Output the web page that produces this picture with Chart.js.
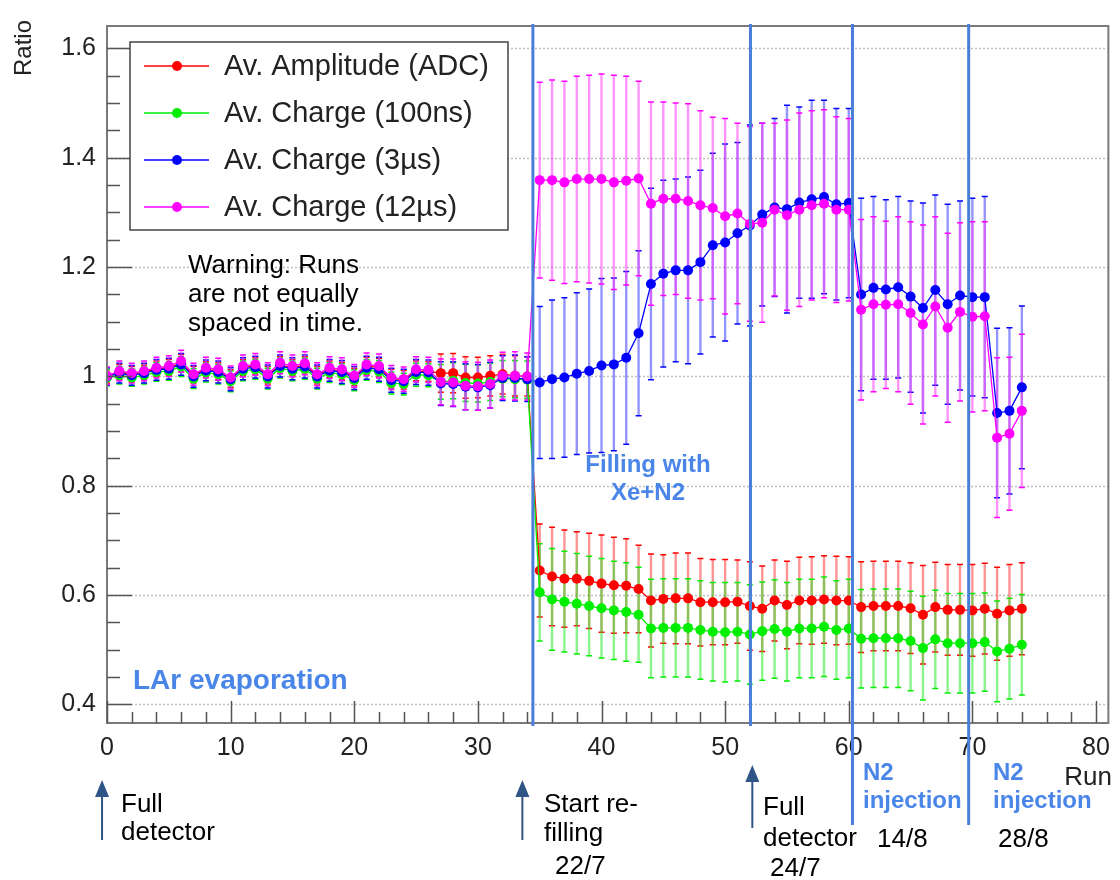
<!DOCTYPE html>
<html>
<head>
    <title>Ratio vs Run</title>
    <script src="https://cdn.jsdelivr.net/npm/chart.js"></script>
    <style>
        body {
            margin: 0;
            padding: 0;
            background-color: #ffffff;
        }
        #wrap {
            width: 1120px;
            height: 880px;
        }
    </style>
</head>
<body>
<div id="wrap"><canvas id="ratioChart" width="1120" height="880"></canvas></div>
<script>
// run numbers
var runs = [0,1,2,3,4,5,6,7,8,9,10,11,12,13,14,15,16,17,18,19,20,21,22,23,24,25,26,27,28,29,
    30,31,32,33,34,35,36,37,38,39,40,41,42,43,44,45,46,47,48,49,50,51,52,53,54,55,56,57,58,59,
    60,61,62,63,64,65,66,67,68,69,70,71,72,73,74];

// Av. Amplitude (ADC)
var ampADC = [1.000,1.008,1.004,1.008,1.014,1.016,1.024,1.003,1.013,1.010,0.996,1.016,1.019,1.002,1.021,1.016,1.020,1.002,1.013,1.010,
    0.999,1.019,1.016,0.996,0.994,1.010,1.009,1.006,1.006,0.998,0.998,1.001,1.004,1.001,1.000,
    0.645,0.634,0.630,0.630,0.626,0.621,0.618,0.617,0.611,
    0.590,0.593,0.594,0.594,0.587,0.587,0.587,0.588,0.580,0.575,0.590,0.582,0.590,0.590,0.592,0.590,0.590,
    0.578,0.580,0.580,0.580,0.576,0.564,0.578,0.573,0.573,0.572,0.575,0.566,0.572,0.575];
var ampADCErr = [0.012,0.014,0.014,0.013,0.014,0.015,0.016,0.015,0.014,0.015,0.016,0.015,0.015,0.016,0.015,0.015,0.016,0.016,0.015,0.016,
    0.016,0.016,0.017,0.017,0.017,0.018,0.018,0.035,0.036,0.038,0.037,0.037,0.036,0.037,0.036,
    0.085,0.090,0.089,0.086,0.087,0.089,0.088,0.086,0.080,
    0.085,0.081,0.083,0.083,0.080,0.078,0.078,0.076,0.081,0.078,0.074,0.080,0.079,0.080,0.080,0.081,0.080,
    0.083,0.082,0.082,0.082,0.083,0.090,0.082,0.083,0.083,0.084,0.083,0.085,0.084,0.084];

// Av. Charge (100ns)
var q100ns = [0.998,1.002,0.998,1.002,1.008,1.010,1.018,0.996,1.007,1.004,0.991,1.010,1.013,0.996,1.015,1.010,1.014,0.996,1.007,1.004,
    0.993,1.012,1.009,0.988,0.986,1.003,1.002,0.990,0.992,0.988,0.987,0.990,0.996,0.995,0.994,
    0.605,0.592,0.588,0.584,0.580,0.576,0.572,0.569,0.564,
    0.539,0.540,0.540,0.540,0.536,0.533,0.532,0.533,0.528,0.534,0.538,0.533,0.539,0.539,0.542,0.536,0.539,
    0.520,0.521,0.521,0.521,0.516,0.503,0.519,0.512,0.512,0.512,0.514,0.497,0.502,0.509];
var q100nsErr = [0.015,0.016,0.016,0.016,0.017,0.017,0.018,0.018,0.017,0.018,0.019,0.018,0.018,0.019,0.018,0.018,0.019,0.019,0.018,0.019,
    0.019,0.019,0.020,0.020,0.020,0.021,0.021,0.032,0.033,0.034,0.034,0.034,0.033,0.034,0.034,
    0.089,0.093,0.092,0.092,0.091,0.091,0.090,0.090,0.087,
    0.090,0.090,0.090,0.090,0.090,0.090,0.091,0.090,0.091,0.090,0.090,0.090,0.090,0.090,0.091,0.090,0.090,
    0.090,0.090,0.090,0.090,0.091,0.095,0.090,0.091,0.091,0.091,0.090,0.092,0.092,0.092];

// Av. Charge (3us)
var q3us = [1.000,1.006,1.002,1.006,1.012,1.014,1.022,1.000,1.011,1.008,0.995,1.014,1.017,1.000,1.019,1.014,1.018,1.000,1.011,1.008,
    0.997,1.016,1.013,0.993,0.991,1.008,1.007,0.987,0.986,0.981,0.980,0.984,0.997,0.997,0.995,
    0.989,0.995,0.998,1.005,1.010,1.020,1.022,1.034,1.079,
    1.169,1.188,1.194,1.194,1.209,1.240,1.245,1.262,1.276,1.296,1.309,1.306,1.318,1.324,1.328,1.315,1.317,
    1.150,1.162,1.159,1.163,1.146,1.125,1.158,1.132,1.148,1.145,1.145,0.933,0.937,0.980];
var q3usErr = [0.016,0.018,0.018,0.018,0.019,0.019,0.020,0.020,0.019,0.020,0.021,0.020,0.020,0.021,0.020,0.020,0.021,0.021,0.020,0.021,
    0.021,0.021,0.022,0.022,0.022,0.023,0.023,0.040,0.041,0.042,0.042,0.042,0.041,0.042,0.041,
    0.139,0.145,0.146,0.148,0.150,0.159,0.158,0.158,0.151,
    0.175,0.171,0.167,0.171,0.168,0.168,0.180,0.166,0.184,0.167,0.163,0.190,0.175,0.181,0.177,0.175,0.173,
    0.176,0.167,0.164,0.166,0.175,0.192,0.174,0.183,0.173,0.181,0.184,0.155,0.152,0.149];

// Av. Charge (12us)
var q12us = [1.001,1.010,1.006,1.010,1.016,1.019,1.028,1.004,1.016,1.013,0.998,1.019,1.022,1.004,1.025,1.019,1.024,1.004,1.016,1.013,
    1.001,1.022,1.019,0.998,0.995,1.013,1.012,0.990,0.989,0.983,0.982,0.986,1.001,1.001,1.000,
    1.359,1.359,1.355,1.361,1.361,1.361,1.355,1.358,1.362,
    1.316,1.325,1.325,1.321,1.313,1.308,1.293,1.298,1.279,1.281,1.305,1.295,1.305,1.313,1.316,1.305,1.305,
    1.122,1.132,1.131,1.132,1.116,1.095,1.128,1.089,1.118,1.109,1.110,0.888,0.895,0.937];
var q12usErr = [0.016,0.018,0.018,0.018,0.019,0.019,0.020,0.020,0.019,0.020,0.021,0.020,0.020,0.021,0.020,0.020,0.021,0.021,0.020,0.021,
    0.021,0.021,0.022,0.022,0.022,0.023,0.023,0.042,0.043,0.044,0.044,0.044,0.043,0.044,0.043,
    0.179,0.183,0.185,0.188,0.190,0.192,0.196,0.191,0.178,
    0.186,0.177,0.175,0.178,0.173,0.166,0.179,0.165,0.178,0.182,0.158,0.174,0.177,0.173,0.172,0.170,0.167,
    0.165,0.160,0.153,0.160,0.167,0.182,0.164,0.173,0.163,0.174,0.173,0.146,0.140,0.140];

var seriesNames = ['Av. Amplitude (ADC)', 'Av. Charge (100ns)', 'Av. Charge (3\u00b5s)', 'Av. Charge (12\u00b5s)'];
var seriesColors = ['#ff0000', '#00ee00', '#0000ff', '#ff00ff'];
var barColors = ['rgba(255,60,60,0.55)', 'rgba(40,235,40,0.55)', 'rgba(60,60,255,0.55)', 'rgba(255,60,255,0.55)'];
var seriesValues = [ampADC, q100ns, q3us, q12us];
var seriesErrors = [ampADCErr, q100nsErr, q3usErr, q12usErr];

var xTicks = [0, 10, 20, 30, 40, 50, 60, 70, 80];
var yTicks = [0.4, 0.6, 0.8, 1.0, 1.2, 1.4, 1.6];

// periods: refill start, full detector, two N2 injections
var markerRuns = [34.45, 52.05, 60.3, 69.7];
var arrowRuns = [-0.4, 33.6, 52.2];

var FONT = '"Liberation Sans", Arial, sans-serif';
var LINE_BLUE = '#4a7fd9';
var NOTE_BLUE = '#4a86e8';

var notes = [
    { t: 'Warning: Runs', x: 188, y: 273, c: '#000', f: '26px' },
    { t: 'are not equally', x: 188, y: 302, c: '#000', f: '26px' },
    { t: 'spaced in time.', x: 188, y: 331, c: '#000', f: '26px' },
    { t: 'Filling with', x: 648, y: 472, c: NOTE_BLUE, f: 'bold 24px', a: 'center' },
    { t: 'Xe+N2', x: 648, y: 500, c: NOTE_BLUE, f: 'bold 24px', a: 'center' },
    { t: 'LAr evaporation', x: 133, y: 689, c: NOTE_BLUE, f: 'bold 28px' },
    { t: 'Full', x: 121, y: 812, c: '#000', f: '26px' },
    { t: 'detector', x: 121, y: 840, c: '#000', f: '26px' },
    { t: 'Start re-', x: 544, y: 812, c: '#000', f: '26px' },
    { t: 'filling', x: 544, y: 841, c: '#000', f: '26px' },
    { t: '22/7', x: 555, y: 874, c: '#000', f: '26px' },
    { t: 'Full', x: 763, y: 815, c: '#000', f: '26px' },
    { t: 'detector', x: 763, y: 846, c: '#000', f: '26px' },
    { t: '24/7', x: 770, y: 876, c: '#000', f: '26px' },
    { t: 'N2', x: 863, y: 780, c: NOTE_BLUE, f: 'bold 24px' },
    { t: 'injection', x: 863, y: 808, c: NOTE_BLUE, f: 'bold 24px' },
    { t: '14/8', x: 877, y: 847, c: '#000', f: '26px' },
    { t: 'N2', x: 993, y: 780, c: NOTE_BLUE, f: 'bold 24px' },
    { t: 'injection', x: 993, y: 808, c: NOTE_BLUE, f: 'bold 24px' },
    { t: '28/8', x: 998, y: 847, c: '#000', f: '26px' }
];

function toPoints(vals) {
    var pts = [];
    for (var i = 0; i < runs.length; i++) {
        pts.push({ x: runs[i], y: vals[i] });
    }
    return pts;
}

// draw order: pink on top, red at the bottom
var drawOrder = [3, 2, 1, 0];
var datasets = [];
for (var s = 0; s < 4; s++) {
    datasets.push({
        label: seriesNames[s],
        data: toPoints(seriesValues[s]),
        borderColor: seriesColors[s],
        backgroundColor: seriesColors[s],
        borderWidth: 1.3,
        pointRadius: 5,
        pointBorderWidth: 0,
        pointBackgroundColor: seriesColors[s],
        tension: 0,
        order: drawOrder[s],
        errors: seriesErrors[s],
        barColor: barColors[s]
    });
}

var rootStyle = {
    id: 'rootStyle',
    beforeDatasetsDraw: function (chart) {
        var ctx = chart.ctx, area = chart.chartArea;
        var xs = chart.scales.x, ys = chart.scales.y;
        ctx.save();
        // dotted horizontal grid
        ctx.strokeStyle = '#c0c0c0';
        ctx.lineWidth = 1.5;
        ctx.setLineDash([2, 2]);
        yTicks.forEach(function (v) {
            var y = Math.round(ys.getPixelForValue(v)) + 0.5;
            ctx.beginPath();
            ctx.moveTo(area.left, y);
            ctx.lineTo(area.right, y);
            ctx.stroke();
        });
        ctx.setLineDash([]);
        // error bars
        ctx.beginPath();
        ctx.rect(area.left, area.top, area.right - area.left, area.bottom - area.top);
        ctx.clip();
        for (var s = 0; s < 4; s++) {
            var ds = chart.data.datasets[s];
            for (var i = 0; i < runs.length; i++) {
                var x = xs.getPixelForValue(runs[i]);
                var v = seriesValues[s][i], e = ds.errors[i];
                var yHi = ys.getPixelForValue(v + e), yLo = ys.getPixelForValue(v - e);
                ctx.strokeStyle = ds.barColor;
                ctx.lineWidth = 2.4;
                ctx.beginPath();
                ctx.moveTo(x, yHi);
                ctx.lineTo(x, yLo);
                ctx.stroke();
                ctx.strokeStyle = seriesColors[s];
                ctx.lineWidth = 1.5;
                ctx.beginPath();
                ctx.moveTo(x - 3, yHi);
                ctx.lineTo(x + 3, yHi);
                ctx.moveTo(x - 3, yLo);
                ctx.lineTo(x + 3, yLo);
                ctx.stroke();
            }
        }
        ctx.restore();
    },
    afterDatasetsDraw: function (chart) {
        var ctx = chart.ctx, area = chart.chartArea;
        var xs = chart.scales.x, ys = chart.scales.y;
        ctx.save();

        // frame
        ctx.strokeStyle = '#7a7a7a';
        ctx.lineWidth = 2;
        ctx.strokeRect(area.left, area.top, area.right - area.left, area.bottom - area.top);

        // inside ticks
        ctx.strokeStyle = '#555';
        ctx.lineWidth = 1.5;
        ctx.beginPath();
        for (var t = 0; t <= 80; t += 2) {
            var x = Math.round(xs.getPixelForValue(t)) + 0.5;
            var len = (t % 10 === 0) ? 22 : 11;
            ctx.moveTo(x, area.bottom);
            ctx.lineTo(x, area.bottom - len);
        }
        for (var k = 8; k <= 32; k++) {
            var y = Math.round(ys.getPixelForValue(k * 0.05)) + 0.5;
            var ylen = (k % 4 === 0) ? 25 : 13;
            ctx.moveTo(area.left, y);
            ctx.lineTo(area.left + ylen, y);
        }
        ctx.stroke();

        // period markers
        ctx.strokeStyle = LINE_BLUE;
        ctx.lineWidth = 3;
        markerRuns.forEach(function (r, i) {
            var x = xs.getPixelForValue(r);
            ctx.beginPath();
            ctx.moveTo(x, area.top - 2);
            ctx.lineTo(x, i < 2 ? area.bottom + 3 : 825);
            ctx.stroke();
        });

        // arrows below the axis
        ctx.strokeStyle = '#2f5486';
        ctx.fillStyle = '#2f5486';
        ctx.lineWidth = 2;
        arrowRuns.forEach(function (r, i) {
            var x = xs.getPixelForValue(r);
            var top = i === 2 ? 765 : 780, bottom = i === 2 ? 828 : 840;
            ctx.beginPath();
            ctx.moveTo(x, top + 10);
            ctx.lineTo(x, bottom);
            ctx.stroke();
            ctx.beginPath();
            ctx.moveTo(x, top);
            ctx.lineTo(x - 7, top + 17);
            ctx.lineTo(x + 7, top + 17);
            ctx.closePath();
            ctx.fill();
        });

        // legend box
        ctx.fillStyle = '#fff';
        ctx.fillRect(130, 42, 378, 188);
        ctx.strokeStyle = '#444';
        ctx.lineWidth = 1.5;
        ctx.strokeRect(130, 42, 378, 188);
        for (var s = 0; s < 4; s++) {
            var ly = 66 + s * 47;
            ctx.strokeStyle = seriesColors[s];
            ctx.lineWidth = 1.3;
            ctx.beginPath();
            ctx.moveTo(144, ly);
            ctx.lineTo(209, ly);
            ctx.stroke();
            ctx.fillStyle = seriesColors[s];
            ctx.beginPath();
            ctx.arc(177, ly, 5, 0, Math.PI * 2);
            ctx.fill();
            ctx.fillStyle = '#222';
            ctx.font = '29px ' + FONT;
            ctx.textAlign = 'left';
            ctx.textBaseline = 'middle';
            ctx.fillText(seriesNames[s], 224, ly + 1);
        }

        // axis titles
        ctx.fillStyle = '#222';
        ctx.font = '24px ' + FONT;
        ctx.textBaseline = 'middle';
        ctx.save();
        ctx.translate(24, 20);
        ctx.rotate(-Math.PI / 2);
        ctx.textAlign = 'right';
        ctx.fillText('Ratio', 0, 0);
        ctx.restore();
        ctx.font = '26px ' + FONT;
        ctx.textAlign = 'right';
        ctx.textBaseline = 'alphabetic';
        ctx.fillText('Run', 1112, 785);

        // annotations
        notes.forEach(function (n) {
            ctx.fillStyle = n.c;
            ctx.font = n.f + ' ' + FONT;
            ctx.textAlign = n.a || 'left';
            ctx.textBaseline = 'alphabetic';
            ctx.fillText(n.t, n.x, n.y);
        });
        ctx.restore();
    }
};

var ctx = document.getElementById('ratioChart').getContext('2d');
var ratioChart = new Chart(ctx, {
    type: 'line',
    data: { datasets: datasets },
    options: {
        responsive: false,
        animation: false,
        devicePixelRatio: 1,
        layout: { padding: { top: 10, right: 7, left: 0, bottom: 0 } },
        plugins: {
            legend: { display: false },
            tooltip: { enabled: false }
        },
        scales: {
            x: {
                type: 'linear',
                min: 0,
                max: 81,
                grid: { display: false, drawTicks: false },
                border: { display: false },
                afterBuildTicks: function (s) { s.ticks = xTicks.map(function (v) { return { value: v }; }); },
                afterFit: function (s) { s.height = 157; },
                ticks: {
                    padding: 10,
                    maxRotation: 0,
                    autoSkip: false,
                    color: '#222',
                    font: { family: FONT, size: 25 }
                }
            },
            y: {
                type: 'linear',
                min: 0.366,
                max: 1.641,
                grid: { display: false, drawTicks: false },
                border: { display: false },
                afterBuildTicks: function (s) { s.ticks = yTicks.map(function (v) { return { value: v }; }); },
                afterFit: function (s) { s.width = 107; },
                ticks: {
                    padding: 11,
                    color: '#222',
                    font: { family: FONT, size: 25 },
                    callback: function (v) { return String(Math.round(v * 10) / 10); }
                }
            }
        }
    },
    plugins: [rootStyle]
});
</script>
</body>
</html>
